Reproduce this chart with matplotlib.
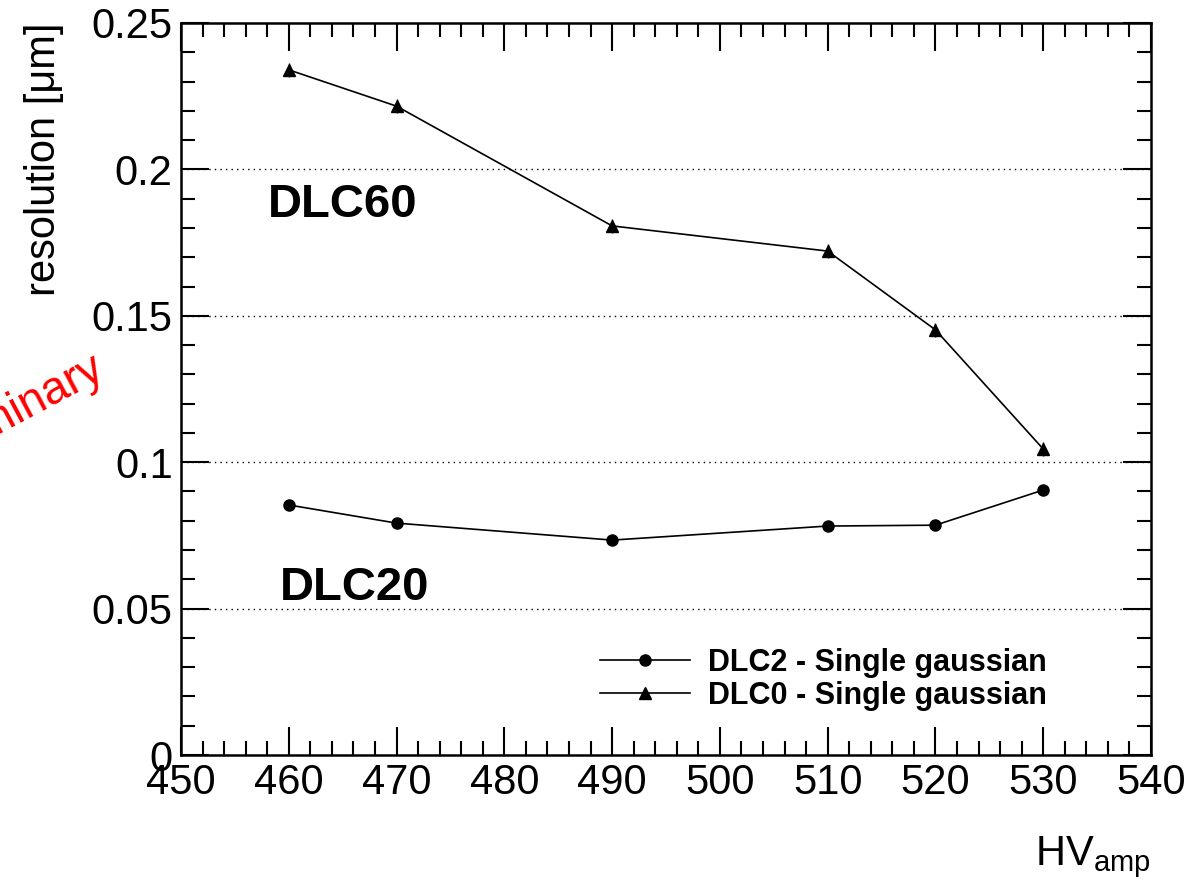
import matplotlib
matplotlib.use("Agg")
from matplotlib import pyplot as plt
from matplotlib.ticker import MultipleLocator

plt.rcParams['font.family'] = ['Liberation Sans', 'DejaVu Sans']
plt.rcParams['mathtext.fontset'] = 'custom'
plt.rcParams['mathtext.rm'] = 'Liberation Sans'
plt.rcParams['mathtext.it'] = 'Liberation Sans:italic'

# data
hv = [460, 470, 490, 510, 520, 530]
dlc2 = [0.0854, 0.0792, 0.0734, 0.0782, 0.0785, 0.0905]
dlc2_err = [0.0015, 0.0015, 0.0015, 0.0015, 0.0015, 0.0015]
dlc0 = [0.2340, 0.2216, 0.1807, 0.1721, 0.1452, 0.1045]
dlc0_err = [0.0025, 0.0025, 0.0025, 0.0025, 0.0025, 0.0025]

fig = plt.figure(figsize=(12.04, 8.84), dpi=100)
ax = fig.add_axes([0.1503, 0.1459, 0.956 - 0.1503, 0.974 - 0.1459])

# error bars first, then the lines with markers (keeps the legend clean)
ax.errorbar(hv, dlc2, yerr=dlc2_err, fmt="none", ecolor="black", elinewidth=1.0)
ax.errorbar(hv, dlc0, yerr=dlc0_err, fmt="none", ecolor="black", elinewidth=1.0)
ax.plot(hv, dlc2, color="black", lw=1.2, marker="o", ms=8, label="DLC2 - Single gaussian")
ax.plot(hv, dlc0, color="black", lw=1.2, marker="^", ms=8, label="DLC0 - Single gaussian")

ax.set_xlim(450, 540)
ax.set_ylim(0, 0.25)
ax.xaxis.set_major_locator(MultipleLocator(10))
ax.xaxis.set_minor_locator(MultipleLocator(2))
ax.yaxis.set_minor_locator(MultipleLocator(0.01))
ax.set_yticks([0, 0.05, 0.1, 0.15, 0.2, 0.25])
ax.set_yticklabels(["0", "0.05", "0.1", "0.15", "0.2", "0.25"])

ax.tick_params(which="both", direction="in", top=True, right=True, width=1.5,
               labelsize=30, pad=6)
ax.tick_params(which="major", length=20)
ax.tick_params(which="minor", length=10)
for s in ax.spines.values():
    s.set_linewidth(1.8)

for yv in [0.05, 0.1, 0.15, 0.2]:
    ax.axhline(yv, color="black", lw=1.0, ls=(0, (1, 3)), zorder=0)

ax.set_ylabel("resolution [μm]", fontsize=30, loc="top", labelpad=20)
ax.set_xlabel(r"HV$_{\rm amp}$", fontsize=30, loc="right", labelpad=22)

ax.text(458.1, 0.1878, "DLC60", fontsize=34, fontweight="bold", va="center")
ax.text(459.2, 0.057, "DLC20", fontsize=34, fontweight="bold", va="center")

fig.text(0.088, 0.575, "Preliminary", color="red", fontsize=33, rotation=28,
         ha="right", va="baseline", rotation_mode="anchor")

ax.legend(loc="upper left", bbox_to_anchor=(0.4755, 0.2985), bbox_transform=fig.transFigure,
          frameon=False, prop={"weight": "bold", "size": 22}, handlelength=2.95,
          handletextpad=0.6, labelspacing=0.1, borderpad=0.4)

plt.savefig("out.png", dpi=100)
